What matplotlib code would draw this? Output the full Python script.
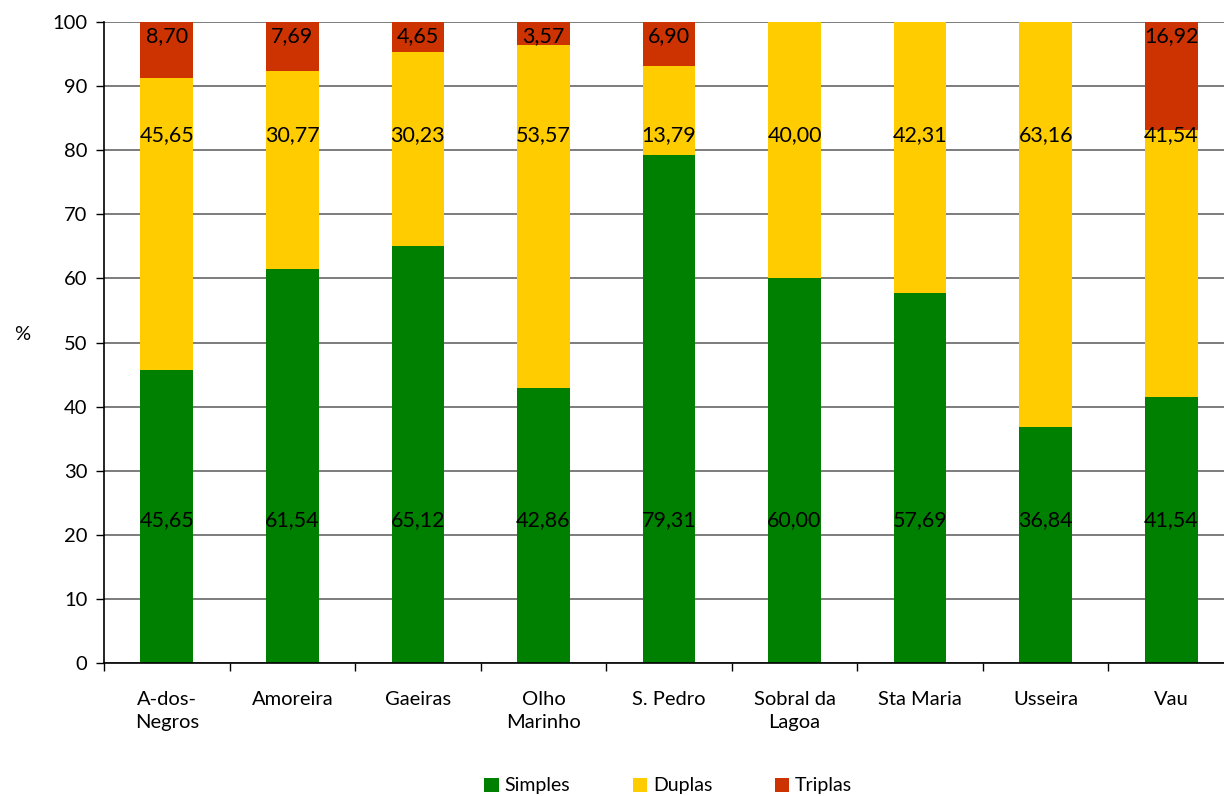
import matplotlib
matplotlib.use("Agg")
import matplotlib.pyplot as plt
import numpy as np

plt.rcParams['font.family'] = ['Lato', 'DejaVu Sans']

categories = ["A-dos-\nNegros", "Amoreira", "Gaeiras", "Olho\nMarinho", "S. Pedro",
              "Sobral da\nLagoa", "Sta Maria", "Usseira", "Vau"]
simples = [45.65, 61.54, 65.12, 42.86, 79.31, 60.00, 57.69, 36.84, 41.54]
duplas = [45.65, 30.77, 30.23, 53.57, 13.79, 40.00, 42.31, 63.16, 41.54]
triplas = [8.70, 7.69, 4.65, 3.57, 6.90, 0.0, 0.0, 0.0, 16.92]
series_names = ["Simples", "Duplas", "Triplas"]
colors = ["#008000", "#FFCC00", "#CC3300"]

fig = plt.figure(figsize=(12.24, 7.96), dpi=100)
ax = fig.add_axes([104/1224, 1 - 663/796, 1130/1224, 641/796])

x = np.arange(len(categories))
w = 0.42
s = np.array(simples); d = np.array(duplas); t = np.array(triplas)
ax.bar(x, s, w, color=colors[0], label=series_names[0], zorder=2)
ax.bar(x, d, w, bottom=s, color=colors[1], label=series_names[1], zorder=2)
ax.bar(x, t, w, bottom=s + d, color=colors[2], label=series_names[2], zorder=2)

def fmt(v):
    return f"{v:.2f}".replace(".", ",")

for i in range(len(categories)):
    ax.text(x[i], 22.3, fmt(s[i]), ha='center', va='center', fontsize=15.5, zorder=3)
    ax.text(x[i], 82.3, fmt(d[i]), ha='center', va='center', fontsize=15.5, zorder=3)
    if t[i] > 0:
        ax.text(x[i], 97.8, fmt(t[i]), ha='center', va='center', fontsize=15.5, zorder=3)

ax.set_xlim(-0.5, len(categories) - 0.5)
ax.set_ylim(0, 100)
ax.set_yticks(np.arange(0, 101, 10))
ax.yaxis.grid(True, color='#666666', linewidth=1.2, zorder=0)
ax.set_axisbelow(True)
ax.set_xticks(x)
ax.set_xticklabels(categories, fontsize=14.5, linespacing=1.45)
ax.set_xticks(np.arange(-0.5, len(categories), 1), minor=True)
ax.tick_params(axis='x', which='major', length=0, pad=20)
ax.tick_params(axis='x', which='minor', length=6, width=1, direction='out')
ax.tick_params(axis='y', length=6, width=1, direction='out', labelsize=14.5, pad=6)
for sp in ['top', 'right']:
    ax.spines[sp].set_visible(False)
ax.spines['left'].set_linewidth(1.2)
ax.spines['bottom'].set_linewidth(1.2)
ax.set_ylabel('%', rotation=0, fontsize=14.5, labelpad=0)
ax.yaxis.set_label_coords(-0.072, 0.5)

fig.legend(loc='center', bbox_to_anchor=(0.546, 1 - 786/796), ncol=3, frameon=False,
           fontsize=14, handlelength=0.75, handleheight=0.75, handletextpad=0.3,
           columnspacing=3.2)

fig.savefig("out.png", dpi=100)
